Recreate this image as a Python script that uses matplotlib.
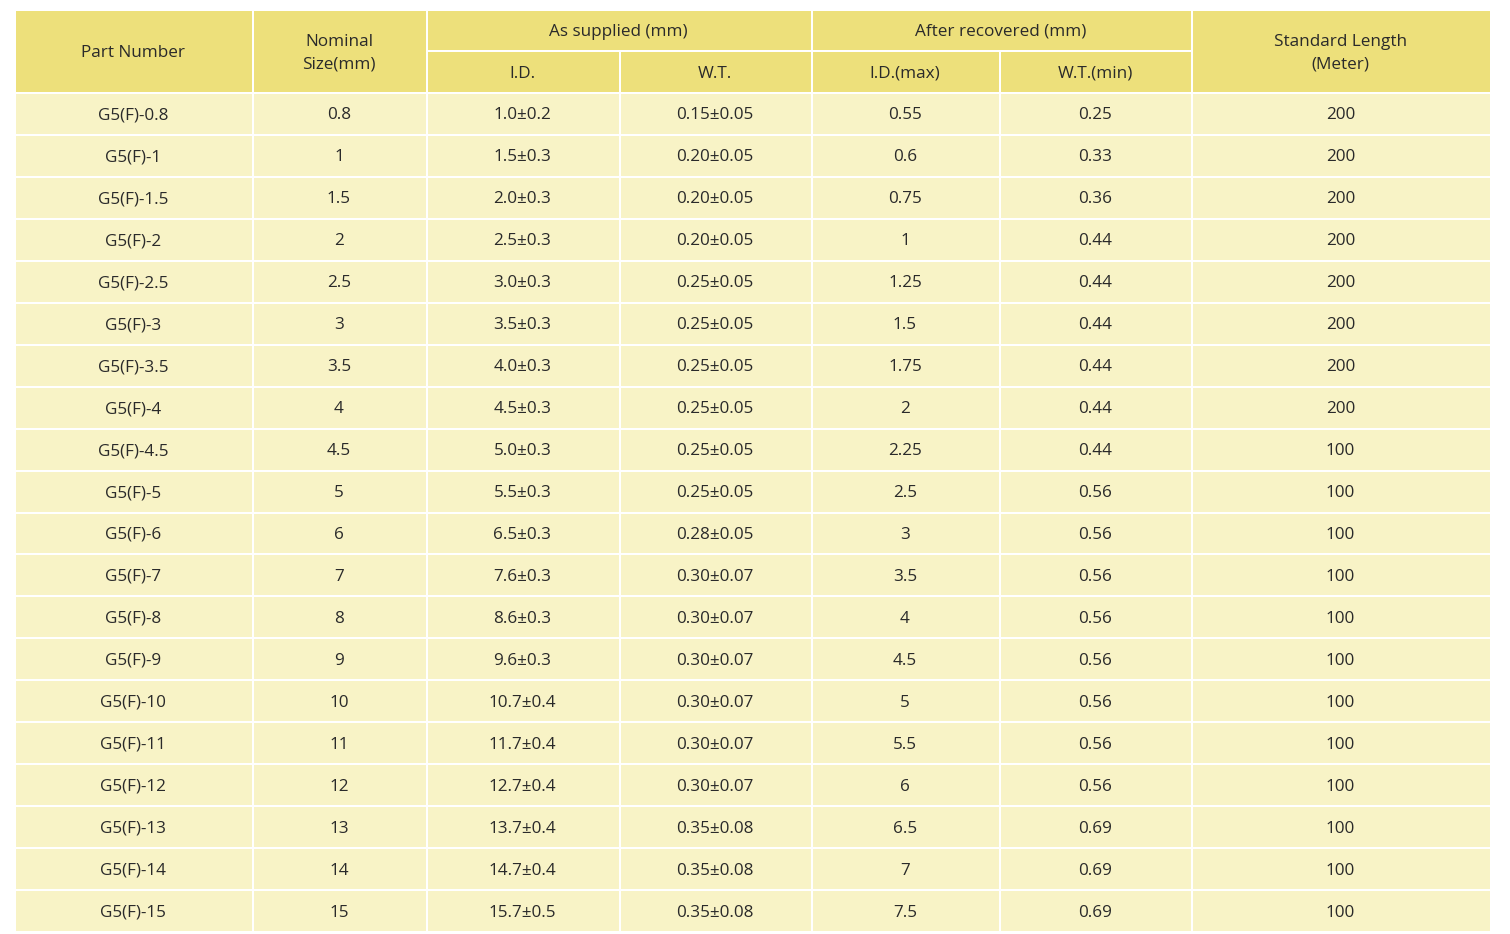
import matplotlib
matplotlib.use("Agg")
import matplotlib.pyplot as plt
from matplotlib.patches import Rectangle

part = ["G5(F)-0.8","G5(F)-1","G5(F)-1.5","G5(F)-2","G5(F)-2.5","G5(F)-3","G5(F)-3.5","G5(F)-4","G5(F)-4.5","G5(F)-5","G5(F)-6","G5(F)-7","G5(F)-8","G5(F)-9","G5(F)-10","G5(F)-11","G5(F)-12","G5(F)-13","G5(F)-14","G5(F)-15"]
nominal = ["0.8","1","1.5","2","2.5","3","3.5","4","4.5","5","6","7","8","9","10","11","12","13","14","15"]
sup_id = ["1.0±0.2","1.5±0.3","2.0±0.3","2.5±0.3","3.0±0.3","3.5±0.3","4.0±0.3","4.5±0.3","5.0±0.3","5.5±0.3","6.5±0.3","7.6±0.3","8.6±0.3","9.6±0.3","10.7±0.4","11.7±0.4","12.7±0.4","13.7±0.4","14.7±0.4","15.7±0.5"]
sup_wt = ["0.15±0.05","0.20±0.05","0.20±0.05","0.20±0.05","0.25±0.05","0.25±0.05","0.25±0.05","0.25±0.05","0.25±0.05","0.25±0.05","0.28±0.05","0.30±0.07","0.30±0.07","0.30±0.07","0.30±0.07","0.30±0.07","0.30±0.07","0.35±0.08","0.35±0.08","0.35±0.08"]
rec_id = ["0.55","0.6","0.75","1","1.25","1.5","1.75","2","2.25","2.5","3","3.5","4","4.5","5","5.5","6","6.5","7","7.5"]
rec_wt = ["0.25","0.33","0.36","0.44","0.44","0.44","0.44","0.44","0.44","0.56","0.56","0.56","0.56","0.56","0.56","0.56","0.56","0.69","0.69","0.69"]
length = ["200","200","200","200","200","200","200","200","100","100","100","100","100","100","100","100","100","100","100","100"]

W, H = 1510, 934
fig = plt.figure(figsize=(W/100, H/100), dpi=100)
ax = fig.add_axes([0, 0, 1, 1])
ax.set_xlim(0, W); ax.set_ylim(H, 0); ax.axis("off")

HDR = "#EDE07B"; BODY = "#F8F3C6"; TXT = "#2a2a2a"
cols = [15, 253, 427, 620, 812, 1000, 1192, 1491]
top, mid, hb = 10, 51, 93
rh = (932 - hb) / len(part)
g = 1.0
font = dict(family="Open Sans", fontsize=12.3, color=TXT, ha="center", va="center",
            linespacing=1.55)

def cell(x0, x1, y0, y1, color, text):
    ax.add_patch(Rectangle((x0+g, y0+g), x1-x0-2*g, y1-y0-2*g, facecolor=color, edgecolor="none"))
    ax.text((x0+x1)/2 - 1, (y0+y1)/2 + 1.5, text, **font)

cell(cols[0], cols[1], top, hb, HDR, "Part Number")
cell(cols[1], cols[2], top, hb, HDR, "Nominal\nSize(mm)")
cell(cols[2], cols[4], top, mid, HDR, "As supplied (mm)")
cell(cols[4], cols[6], top, mid, HDR, "After recovered (mm)")
cell(cols[6], cols[7], top, hb, HDR, "Standard Length\n(Meter)")
for i, t in enumerate(["I.D.", "W.T.", "I.D.(max)", "W.T.(min)"]):
    cell(cols[2+i], cols[3+i], mid, hb, HDR, t)

data = [part, nominal, sup_id, sup_wt, rec_id, rec_wt, length]
for r in range(len(part)):
    y0 = hb + r*rh
    for c in range(7):
        cell(cols[c], cols[c+1], y0, y0+rh, BODY, data[c][r])

fig.savefig("out.png", dpi=100, facecolor="white")
